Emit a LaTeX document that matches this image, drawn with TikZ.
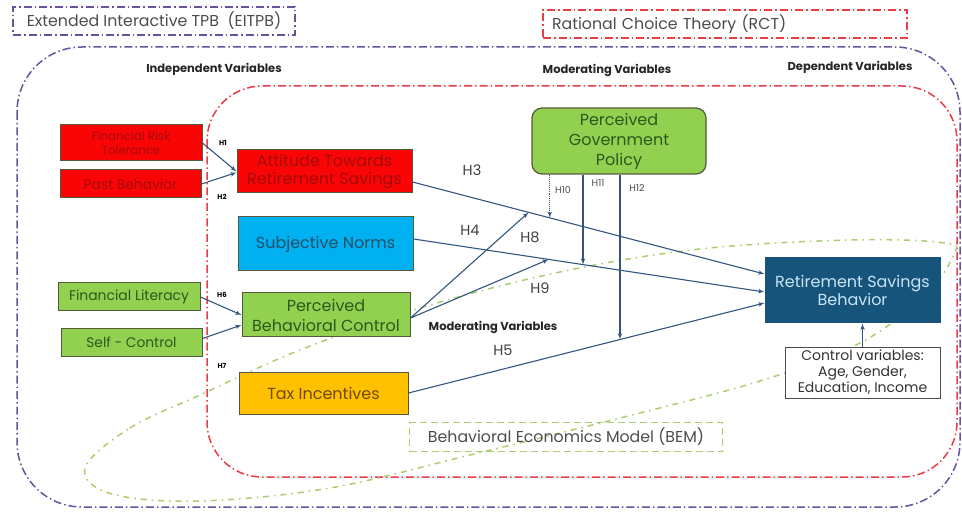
\documentclass[tikz,border=0pt]{standalone}
\usepackage{fontspec}
\setmainfont{Poppins}
\usetikzlibrary{arrows}
\definecolor{mpurple}{RGB}{105,80,160}
\definecolor{mred}{RGB}{232,60,70}
\definecolor{mgreenline}{RGB}{170,205,110}
\definecolor{boxred}{RGB}{250,5,5}
\definecolor{txtred}{RGB}{165,10,10}
\definecolor{boxblue}{RGB}{0,176,240}
\definecolor{txtblue}{RGB}{35,80,105}
\definecolor{boxgreen}{RGB}{146,208,80}
\definecolor{txtgreen}{RGB}{40,90,30}
\definecolor{boxgold}{RGB}{255,192,0}
\definecolor{txtgold}{RGB}{110,75,0}
\definecolor{boxnavy}{RGB}{22,84,124}
\definecolor{txtnavy}{RGB}{200,228,245}
\definecolor{edge}{RGB}{85,90,60}
\definecolor{linkc}{RGB}{50,86,128}
\tikzset{
  varbox/.style = {draw=edge, line width=1pt, inner sep=0pt, align=center,
                   font=\fontsize{16}{18}\selectfont},
  frame/.style  = {line width=1.5pt, dash pattern=on 8pt off 3pt on 1.5pt off 3pt},
  tagbox/.style = {inner sep=0pt, font=\fontsize{15.8}{18}\selectfont, text=black!70},
  link/.style   = {draw=linkc, line width=1.1pt, -latex'},
  hbig/.style   = {font=\fontsize{14.5}{16}\selectfont, text=black!75, inner sep=1pt},
  hmid/.style   = {font=\fontsize{9.5}{11}\selectfont, text=black!70, inner sep=1pt},
  hsmall/.style = {font=\bfseries\fontsize{7}{8}\selectfont, inner sep=1pt},
  heading/.style = {font=\bfseries\fontsize{11.5}{13}\selectfont, text=black!85}
}

\begin{document}
\begin{tikzpicture}[x=1pt, y=-1pt]
  \useasboundingbox (0,0) rectangle (962,513);

  % theory frames
  \draw [frame, mpurple, rounded corners=65pt] (17,47) rectangle (960,507);
  \draw [frame, mred, rounded corners=55pt] (207,86) rectangle (957,477);
  \draw [mgreenline, line width=1.5pt, dash pattern=on 6pt off 5pt on 1.5pt off 5pt]
    plot [smooth cycle, tension=0.6] coordinates {(85,468) (130,428) (200,395) (300,350)
      (420,308) (560,272) (700,249) (850,240) (945,243) (953,256) (925,295) (860,343)
      (760,381) (620,418) (470,455) (330,488) (200,501) (112,494)};

  \node [tagbox, draw=mpurple, frame, minimum width=282pt, minimum height=28pt]
    (eitpb) at (154,21) {Extended Interactive TPB~~(EITPB)};
  \node [tagbox, draw=mred, frame, text width=346pt, inner xsep=9pt, minimum height=28pt,
    align=left] (rct) at (725,24) {Rational Choice Theory (RCT)};
  \node [tagbox, draw=mgreenline, line width=1.3pt, dash pattern=on 7pt off 4pt,
    minimum width=313pt, minimum height=29pt] (bem) at (566,437)
    {Behavioral Economics Model (BEM)};

  \node [heading] (indep) at (214,69) {Independent Variables};
  \node [heading] (moder) at (607,70) {Moderating Variables};
  \node [heading] (dep) at (850,67) {Dependent Variables};
  \node [heading] (moder2) at (493,327) {Moderating Variables};

  % variables
  \node [varbox, fill=boxred, text=txtred, minimum width=142pt, minimum height=36pt,
    font=\fontsize{11.8}{14}\selectfont] (risk) at (131,143) {Financial Risk\\Tolerance};
  \node [varbox, fill=boxred, text=txtred, minimum width=141pt, minimum height=28pt,
    font=\fontsize{13.8}{15}\selectfont] (past) at (130.5,184) {Past Behavior};
  \node [varbox, fill=boxred, text=txtred, minimum width=175pt, minimum height=43pt]
    (atrs) at (324.5,171.5) {Attitude Towards\\Retirement Savings};
  \node [varbox, fill=boxblue, text=txtblue, minimum width=175pt, minimum height=54pt]
    (sn) at (325.5,244) {Subjective Norms};
  \node [varbox, fill=boxgreen, text=txtgreen, minimum width=142pt, minimum height=28pt,
    font=\fontsize{13.9}{15}\selectfont] (lit) at (129,297) {Financial Literacy};
  \node [varbox, fill=boxgreen, text=txtgreen, minimum width=141pt, minimum height=27pt,
    font=\fontsize{13.8}{15}\selectfont] (self) at (131.5,342.5) {Self - Control};
  \node [varbox, fill=boxgreen, text=txtgreen, minimum width=168pt, minimum height=44pt,
    font=\fontsize{16}{20}\selectfont] (pbc) at (326,315) {Perceived\\Behavioral Control};
  \node [varbox, fill=boxgold, text=txtgold, minimum width=169pt, minimum height=42pt]
    (tax) at (323.5,393) {Tax Incentives};
  \node [varbox, fill=boxgreen, text=txtgreen, rounded corners=10pt, line width=1.2pt,
    minimum width=174pt, minimum height=66pt, font=\fontsize{16}{20}\selectfont]
    (pgp) at (619,141) {Perceived\\Government\\Policy};
  \node [varbox, draw=boxnavy, fill=boxnavy, text=txtnavy, minimum width=175pt,
    minimum height=65pt] (rsb) at (852.5,290.5) {Retirement Savings\\Behavior};
  \node [varbox, draw=black!70, fill=white, text=black!80, minimum width=155pt,
    minimum height=51pt, font=\fontsize{14}{16}\selectfont]
    (ctrl) at (862.5,372.5) {Control variables:\\Age, Gender,\\Education, Income};

  % hypotheses
  \draw [link] (risk.east) -- (atrs.west);
  \draw [link] (past.east) -- ([yshift=-1pt]atrs.west);
  \draw [link] (lit.east) -- (pbc.west);
  \draw [link] ([yshift=4pt]self.east) -- ([yshift=-10pt]pbc.west);
  \draw [link] ([yshift=-10.5pt]atrs.east) -- coordinate [pos=0.33] (m3a)
    coordinate [pos=0.39] (m3b) ([yshift=16.5pt]rsb.west);
  \draw [link] ([yshift=5pt]sn.east) -- coordinate [pos=0.385] (m4a)
    coordinate [pos=0.483] (m4b) ([yshift=-1.5pt]rsb.west);
  \draw [link] (tax.east) -- coordinate [pos=0.594] (m5) ([yshift=-12.5pt]rsb.west);
  \draw [link] ([yshift=-3pt]pbc.east) -- (m3a);
  \draw [link] ([yshift=-3pt]pbc.east) -- (m4a);
  \draw [link, densely dotted] (m3b |- pgp.south) -- (m3b);
  \draw [link] (m4b |- pgp.south) -- (m4b);
  \draw [link] (m5 |- pgp.south) -- (m5);
  \draw [link] (ctrl.north) -- (ctrl.north |- rsb.south);

  \node [hsmall] (h1) at (223,143) {H1};
  \node [hsmall] (h2) at (222,197) {H2};
  \node [hsmall] (h6) at (222,295) {H6};
  \node [hsmall] (h7) at (222,366) {H7};
  \node [hbig] (h3) at (472,170) {H3};
  \node [hbig] (h4) at (470,230) {H4};
  \node [hbig] (h8) at (530,237) {H8};
  \node [hbig] (h9) at (540,288) {H9};
  \node [hbig] (h5) at (503,350) {H5};
  \node [hmid] (h10) at (563,190) {H10};
  \node [hmid] (h11) at (598,183) {H11};
  \node [hmid] (h12) at (637,188) {H12};
\end{tikzpicture}
\end{document}
